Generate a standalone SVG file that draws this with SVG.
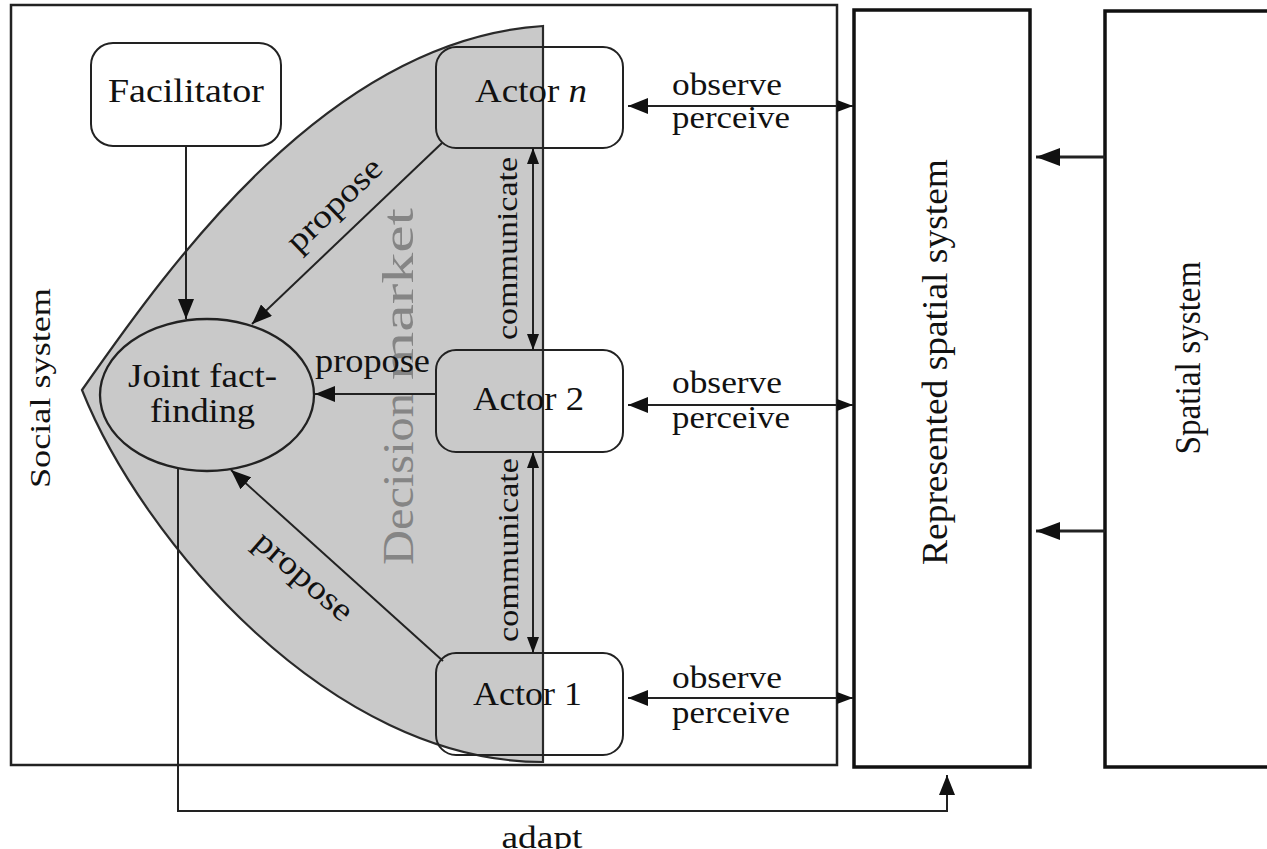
<svg xmlns="http://www.w3.org/2000/svg" width="1267" height="849" viewBox="0 0 1267 849">
<defs>
<style>
.box{fill:none;stroke:#222;stroke-width:2.5}
.bigbox{fill:#fff;stroke:#111;stroke-width:3.5}
.rbox{fill:none;stroke:#222;stroke-width:2}
.ln{fill:none;stroke:#222;stroke-width:2}
.t{font-family:"Liberation Serif","Times New Roman",serif;fill:#111}
.dm{font-family:"Liberation Serif","Times New Roman",serif;fill:#858585}
</style>
<marker id="ah" markerUnits="userSpaceOnUse" markerWidth="20" markerHeight="16" refX="20" refY="8" orient="auto-start-reverse"><path d="M0,0 L20,8 L0,16 z" fill="#111"/></marker>
<marker id="as" markerUnits="userSpaceOnUse" markerWidth="16" markerHeight="12" refX="16" refY="6" orient="auto-start-reverse"><path d="M0,0 L16,6 L0,12 z" fill="#111"/></marker>
<marker id="ax" markerUnits="userSpaceOnUse" markerWidth="24" markerHeight="18" refX="24" refY="9" orient="auto-start-reverse"><path d="M0,0 L24,9 L0,18 z" fill="#111"/></marker>
</defs>
<rect width="1267" height="849" fill="#fff"/>

<g id="social-system">
<rect class="box" x="11" y="5" width="826" height="760"/>
<text class="t" font-size="30" transform="translate(50,388) rotate(-90)" text-anchor="middle" textLength="200" lengthAdjust="spacingAndGlyphs">Social system</text>
</g>

<g id="decision-market">
<path d="M543,26 C330,40 173,260 82,390 C142,540 330,762 543,762 Z" fill="#c9c9c9" stroke="#2a2a2a" stroke-width="2.2"/>
<text class="dm" font-size="45" transform="translate(413,479) rotate(-90)" text-anchor="middle" textLength="172" lengthAdjust="spacingAndGlyphs">Decision</text>
<text class="dm" font-size="45" transform="translate(413,294) rotate(-90)" text-anchor="middle" textLength="172" lengthAdjust="spacingAndGlyphs">market</text>
</g>

<g id="represented-spatial-system">
<rect class="bigbox" x="854" y="10" width="176" height="757"/>
<text class="t" font-size="36" transform="translate(947,362) rotate(-90)" text-anchor="middle" textLength="406" lengthAdjust="spacingAndGlyphs">Represented spatial system</text>
</g>

<g id="spatial-system">
<rect class="bigbox" x="1105" y="11" width="200" height="756"/>
<text class="t" font-size="36" transform="translate(1200,358) rotate(-90)" text-anchor="middle" textLength="193" lengthAdjust="spacingAndGlyphs">Spatial system</text>
</g>

<g id="facilitator">
<rect x="91" y="43" width="190" height="103" rx="22" fill="#fff" stroke="#222" stroke-width="2"/>
<text class="t" font-size="33" x="186" y="102" text-anchor="middle" textLength="156" lengthAdjust="spacingAndGlyphs">Facilitator</text>
</g>

<g id="joint-fact-finding">
<ellipse cx="207" cy="395" rx="107" ry="76" fill="#c9c9c9" stroke="#222" stroke-width="2.3"/>
<text class="t" font-size="33" x="202.5" y="387" text-anchor="middle" textLength="149" lengthAdjust="spacingAndGlyphs">Joint fact-</text>
<text class="t" font-size="33" x="202.5" y="422" text-anchor="middle" textLength="105" lengthAdjust="spacingAndGlyphs">finding</text>
</g>

<g id="actor-n">
<rect class="rbox" x="436" y="47" width="187" height="101" rx="20"/>
<text class="t" font-size="33" transform="translate(531,102) scale(1.12,1)" text-anchor="middle">Actor <tspan font-style="italic">n</tspan></text>
</g>

<g id="actor-2">
<rect class="rbox" x="436" y="350" width="187" height="102" rx="20"/>
<text class="t" font-size="33" x="528.5" y="410" text-anchor="middle" textLength="111" lengthAdjust="spacingAndGlyphs">Actor 2</text>
</g>

<g id="actor-1">
<rect class="rbox" x="436" y="653" width="187" height="102" rx="20"/>
<text class="t" font-size="33" x="527.5" y="705" text-anchor="middle" textLength="109" lengthAdjust="spacingAndGlyphs">Actor 1</text>
</g>

<g id="connectors">
<path class="ln" d="M186,146 L186,319" marker-end="url(#ah)"/>
<path class="ln" d="M442,143 L252,324" marker-end="url(#ah)"/>
<path class="ln" d="M436,394 L315,394" marker-end="url(#ah)"/>
<path class="ln" d="M443,661 L231,470" marker-end="url(#ah)"/>
<path class="ln" d="M533,148 L533,350" marker-start="url(#as)" marker-end="url(#as)"/>
<path class="ln" d="M533,452 L533,653" marker-start="url(#as)" marker-end="url(#as)"/>
<path class="ln" d="M628,106 L853,106" marker-start="url(#ah)" marker-end="url(#as)"/>
<path class="ln" d="M628,405 L853,405" marker-start="url(#ah)" marker-end="url(#as)"/>
<path class="ln" d="M628,698 L853,698" marker-start="url(#ah)" marker-end="url(#as)"/>
<path class="ln" style="stroke-width:3" d="M1105,157 L1036,157" marker-end="url(#ax)"/>
<path class="ln" style="stroke-width:3" d="M1105,531 L1036,531" marker-end="url(#ax)"/>
<path class="ln" d="M178,468 L178,811 L947,811 L947,775" marker-end="url(#ah)"/>

<text class="t" font-size="33" transform="translate(341.5,212) rotate(-44)" text-anchor="middle" textLength="120" lengthAdjust="spacingAndGlyphs">propose</text>
<text class="t" font-size="33" x="372.5" y="372" text-anchor="middle" textLength="115" lengthAdjust="spacingAndGlyphs">propose</text>
<text class="t" font-size="33" transform="translate(297,584) rotate(41)" text-anchor="middle" textLength="120" lengthAdjust="spacingAndGlyphs">propose</text>
<text class="t" font-size="30" transform="translate(516.5,248.5) rotate(-90)" text-anchor="middle" textLength="183" lengthAdjust="spacingAndGlyphs">communicate</text>
<text class="t" font-size="30" transform="translate(518,550) rotate(-90)" text-anchor="middle" textLength="184" lengthAdjust="spacingAndGlyphs">communicate</text>
<text class="t" font-size="32" x="672" y="95" textLength="110" lengthAdjust="spacingAndGlyphs">observe</text>
<text class="t" font-size="32" x="672" y="128" textLength="118" lengthAdjust="spacingAndGlyphs">perceive</text>
<text class="t" font-size="32" x="672" y="393" textLength="110" lengthAdjust="spacingAndGlyphs">observe</text>
<text class="t" font-size="32" x="672" y="428" textLength="118" lengthAdjust="spacingAndGlyphs">perceive</text>
<text class="t" font-size="32" x="672" y="688" textLength="110" lengthAdjust="spacingAndGlyphs">observe</text>
<text class="t" font-size="32" x="672" y="723" textLength="118" lengthAdjust="spacingAndGlyphs">perceive</text>
<text class="t" font-size="32" x="542" y="848" text-anchor="middle" textLength="81" lengthAdjust="spacingAndGlyphs">adapt</text>
</g>
</svg>
